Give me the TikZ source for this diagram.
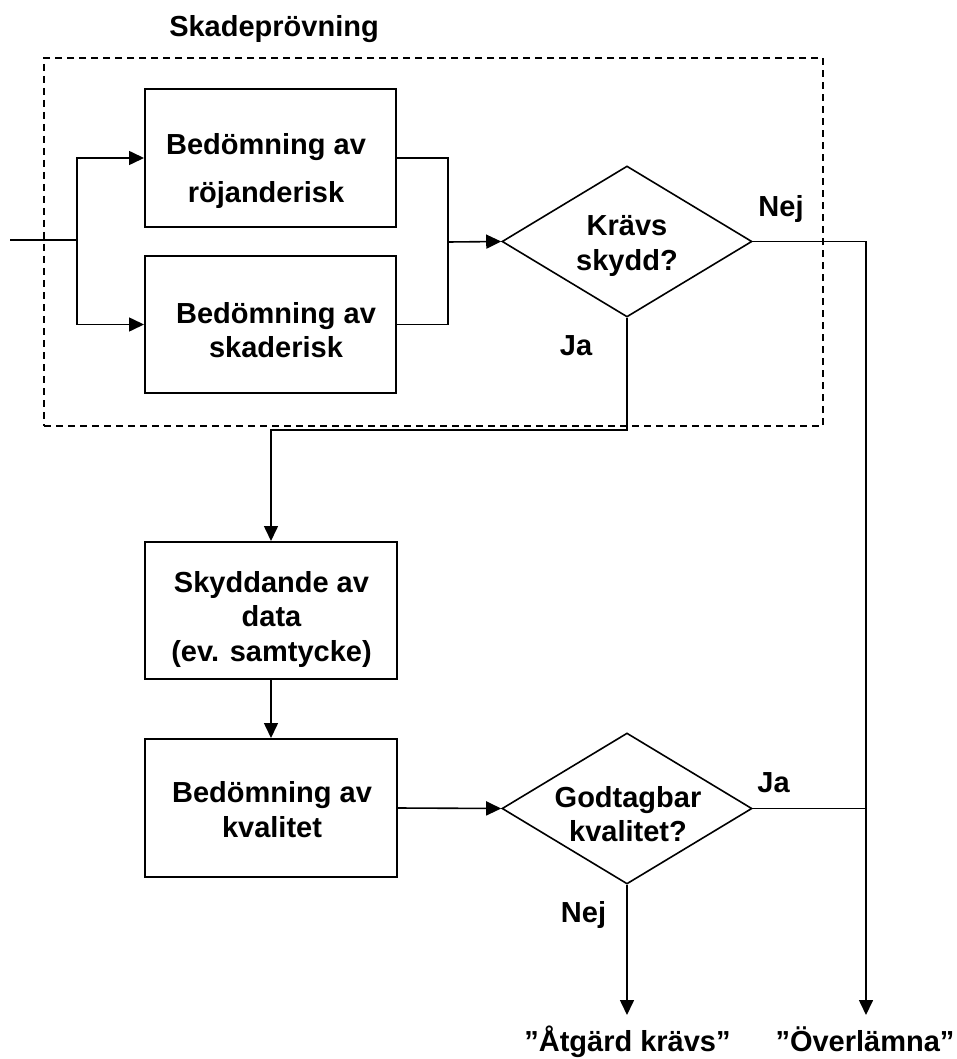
\documentclass[tikz,border=0pt]{standalone}
\usepackage{fontspec}
\setmainfont{Liberation Sans}
\usetikzlibrary{arrows.meta,shapes.geometric}
\begin{document}
\begin{tikzpicture}[x=1pt,y=-1pt,
  every node/.style={font=\fontsize{29}{34.5}\selectfont\bfseries},
  box/.style={draw, line width=2pt, minimum width=251pt, minimum height=137pt, inner sep=0pt},
  dec/.style={draw, diamond, line width=1.6pt, minimum width=250pt, minimum height=151pt, inner sep=0pt},
  txt/.style={align=center, inner sep=0pt},
  lab/.style={anchor=base, inner sep=0pt},
  conn/.style={line width=1.6pt},
  arr/.style={conn, -{Triangle[length=15pt,width=14pt]}},
  frame/.style={draw, line width=1.5pt, dash pattern=on 7pt off 5pt, inner sep=0pt}]
\useasboundingbox (0,0) rectangle (957,1059);
% group frame
\node[frame, minimum width=779pt, minimum height=368pt] (grp) at (433.5,242) {};
\node[lab] (title) at (274,36.7) {Skadeprövning};
% boxes
\node[box, minimum height=138pt] (b1) at (270.5,158) {};
\node[box] (b2) at (270.5,324.5) {};
\node[box, minimum width=252pt] (b3) at (271,610.5) {};
\node[box, minimum width=252pt, minimum height=138pt] (b4) at (271,808) {};
% diamonds
\node[dec] (d1) at (627,241.5) {};
\node[dec] (d2) at (627,808.5) {};
% texts
\node[txt] (t1) at (266,171.5) {Bedömning av\\[13.5pt]röjanderisk};
\node[txt] (t2) at (276,330) {Bedömning av\\skaderisk};
\node[txt] (t3) at (271.5,619) {Skyddande av\\data\\(ev. samtycke)};
\node[txt] (t4) at (272,809.5) {Bedömning av\\kvalitet};
\node[txt] (t5) at (627,246) {Krävs\\skydd?};
\node[txt] (t6) at (628,814) {Godtagbar\\kvalitet?};
% labels
\node[lab] (nej1) at (781,217) {Nej};
\node[lab] (ja1) at (576,355) {Ja};
\node[lab] (ja2) at (773.5,792) {Ja};
\node[lab] (nej2) at (583.5,922) {Nej};
\node[lab] (res1) at (627.5,1051) {”Åtgärd krävs”};
\node[lab] (res2) at (865,1051) {”Överlämna”};
% coordinates
\coordinate (in) at (10,240);
\coordinate (j1) at (77,240);
\coordinate (m) at (448,242);
\coordinate (c2) at (271,430);
\coordinate (o1) at (627,1015);
\coordinate (o2) at (866,1015);
% connectors
\draw[conn] (in) -- (j1);
\draw[arr] (j1) |- (b1.west);
\draw[arr] (j1) |- (b2.west);
\draw[conn] (b1.east) -| (m);
\draw[conn] (b2.east) -| (m);
\draw[arr] (m) -- (d1.west);
\draw[arr] (d1.south) |- (c2) -- (b3.north);
\draw[arr] (d1.east) -| (o2);
\draw[arr] (b3.south) -- (b4.north);
\draw[arr] (b4.east) -- (d2.west);
\draw[conn] (d2.east) -- (d2.east -| o2);
\draw[arr] (d2.south) -- (o1);
\end{tikzpicture}
\end{document}
